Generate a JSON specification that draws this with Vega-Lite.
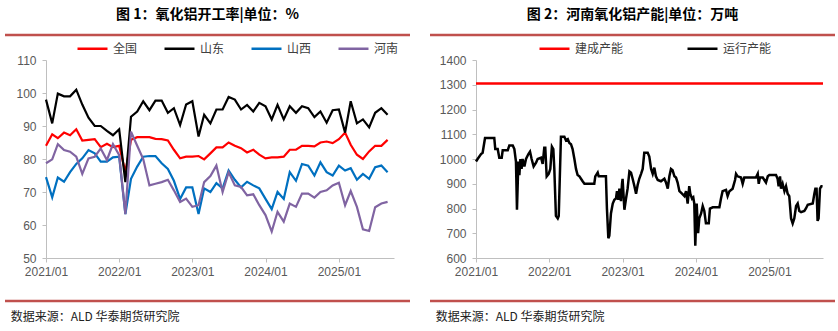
{
  "$schema": "https://vega.github.io/schema/vega-lite/v6.json",
  "background": "white",
  "padding": {"left": 3, "top": 7, "right": 3, "bottom": 3},
  "config": {
    "view": {"stroke": null},
    "font": "Liberation Sans",
    "axis": {"grid": false, "domainColor": "#BFBFBF", "tickColor": "#BFBFBF", "labelColor": "#595959", "labelFont": "Liberation Sans", "labelFontSize": 12, "tickSize": 4, "labelFlush": false},
    "title": {"font": "Noto Sans CJK SC", "fontSize": 14, "fontWeight": "bold", "color": "#000000"},
    "legend": {"orient": "none", "direction": "horizontal", "symbolType": "stroke", "symbolSize": 900, "symbolStrokeWidth": 2.5, "labelFont": "Noto Sans CJK SC", "labelFontSize": 12, "labelColor": "#404040", "labelOffset": 4, "padding": 0, "title": null}
  },
  "resolve": {"scale": {"color": "independent"}, "legend": {"color": "independent"}},
  "datasets": {
    "rate": [
      {"d":"2021-01-01","全国":84,"山东":98,"山西":74.5,"河南":78.7},
      {"d":"2021-02-01","全国":87.5,"山东":90.8,"山西":68.4,"河南":79.9},
      {"d":"2021-03-01","全国":86.3,"山东":99.8,"山西":74.4,"河南":84.5},
      {"d":"2021-04-01","全国":88,"山东":99,"山西":73.1,"河南":82.7},
      {"d":"2021-05-01","全国":87.2,"山东":99,"山西":76,"河南":82.2},
      {"d":"2021-06-01","全国":89,"山东":101,"山西":78.5,"河南":80.7},
      {"d":"2021-07-01","全国":85.6,"山东":96.5,"山西":80.2,"河南":75.5},
      {"d":"2021-08-01","全国":85.8,"山东":92.5,"山西":82.7,"河南":80.2},
      {"d":"2021-09-01","全国":86,"山东":90,"山西":81.7,"河南":80.7},
      {"d":"2021-10-01","全国":83.6,"山东":90,"山西":79.2,"河南":83.2},
      {"d":"2021-11-01","全国":84.6,"山东":88.5,"山西":79.2,"河南":79.7},
      {"d":"2021-12-01","全国":83.6,"山东":87.2,"山西":80.5,"河南":84.5},
      {"d":"2022-01-01","全国":84,"山东":89,"山西":80.7,"河南":81.2},
      {"d":"2022-02-01","全国":76,"山东":73,"山西":63.3,"河南":63.3},
      {"d":"2022-03-01","全国":85.8,"山东":92.8,"山西":74,"河南":88.3},
      {"d":"2022-04-01","全国":86.6,"山东":94.4,"山西":77.7,"河南":84},
      {"d":"2022-05-01","全国":86.6,"山东":97.5,"山西":80.7,"河南":80},
      {"d":"2022-06-01","全国":86.6,"山东":94.8,"山西":80.9,"河南":72},
      {"d":"2022-07-01","全国":86.1,"山东":97.7,"山西":80.9,"河南":72.5},
      {"d":"2022-08-01","全国":86,"山东":97.7,"山西":78.7,"河南":73},
      {"d":"2022-09-01","全国":85.6,"山东":94,"山西":77,"河南":73.7},
      {"d":"2022-10-01","全国":82.8,"山东":95.4,"山西":73.4,"河南":70.5},
      {"d":"2022-11-01","全国":80.2,"山东":90.3,"山西":67.9,"河南":67},
      {"d":"2022-12-01","全国":80.7,"山东":96.5,"山西":71.4,"河南":68},
      {"d":"2023-01-01","全国":80.7,"山东":97.5,"山西":71.4,"河南":65.5},
      {"d":"2023-02-01","全国":80.9,"山东":86.8,"山西":63.3,"河南":66},
      {"d":"2023-03-01","全国":79.9,"山东":93.4,"山西":71.1,"河南":73},
      {"d":"2023-04-01","全国":81.7,"山东":90.8,"山西":70,"河南":74.8},
      {"d":"2023-05-01","全国":83.5,"山东":95,"山西":72.7,"河南":78},
      {"d":"2023-06-01","全国":83.5,"山东":95,"山西":71.1,"河南":70},
      {"d":"2023-07-01","全国":85,"山东":98.8,"山西":76.5,"河南":76},
      {"d":"2023-08-01","全国":84,"山东":98,"山西":73.7,"河南":72},
      {"d":"2023-09-01","全国":83.3,"山东":95,"山西":71.4,"河南":71.5},
      {"d":"2023-10-01","全国":82,"山东":96.4,"山西":73.1,"河南":69},
      {"d":"2023-11-01","全国":82.8,"山东":94.4,"山西":72,"河南":69.3},
      {"d":"2023-12-01","全国":81.3,"山东":97,"山西":71.1,"河南":66},
      {"d":"2024-01-01","全国":80.2,"山东":96,"山西":67.9,"河南":63},
      {"d":"2024-02-01","全国":80.5,"山东":92,"山西":64.8,"河南":58},
      {"d":"2024-03-01","全国":80.5,"山东":96.4,"山西":70,"河南":64},
      {"d":"2024-04-01","全国":80.7,"山东":92,"山西":67.9,"河南":61},
      {"d":"2024-05-01","全国":82.8,"山东":96,"山西":76,"河南":66.5},
      {"d":"2024-06-01","全国":82.8,"山东":94,"山西":73.4,"河南":65.5},
      {"d":"2024-07-01","全国":84,"山东":96,"山西":78.5,"河南":69.5},
      {"d":"2024-08-01","全国":84,"山东":95.4,"山西":78,"河南":69.5},
      {"d":"2024-09-01","全国":83.8,"山东":92.7,"山西":75,"河南":68.3},
      {"d":"2024-10-01","全国":85,"山东":94.4,"山西":79,"河南":70},
      {"d":"2024-11-01","全国":85.3,"山东":91,"山西":76,"河南":70.5},
      {"d":"2024-12-01","全国":84.8,"山东":94.8,"山西":75,"河南":72},
      {"d":"2025-01-01","全国":86,"山东":95,"山西":78,"河南":72.8},
      {"d":"2025-02-01","全国":88,"山东":88,"山西":76.5,"河南":66},
      {"d":"2025-03-01","全国":84.3,"山东":97.5,"山西":77.2,"河南":70.3},
      {"d":"2025-04-01","全国":81.3,"山东":90.8,"山西":73.7,"河南":65.5},
      {"d":"2025-05-01","全国":80,"山东":92,"山西":75.5,"河南":58.7},
      {"d":"2025-06-01","全国":82.3,"山东":89.6,"山西":74,"河南":58.2},
      {"d":"2025-07-01","全国":84,"山东":94,"山西":77.5,"河南":65.4},
      {"d":"2025-08-01","全国":84,"山东":95.4,"山西":78,"河南":66.5},
      {"d":"2025-09-01","全国":85.8,"山东":93.4,"山西":76,"河南":67}
    ],
    "cap": [
      {"d":"2021-01-01","s":"建成产能","v":1305},
      {"d":"2025-09-25","s":"建成产能","v":1305},
      {"d":"2021-01-01","s":"运行产能","v":990},
      {"d":"2021-01-09","s":"运行产能","v":1000},
      {"d":"2021-01-26","s":"运行产能","v":1020},
      {"d":"2021-02-03","s":"运行产能","v":1025},
      {"d":"2021-02-15","s":"运行产能","v":1085},
      {"d":"2021-04-02","s":"运行产能","v":1085},
      {"d":"2021-04-07","s":"运行产能","v":1040},
      {"d":"2021-04-19","s":"运行产能","v":1040},
      {"d":"2021-04-27","s":"运行产能","v":1005},
      {"d":"2021-05-09","s":"运行产能","v":1005},
      {"d":"2021-05-14","s":"运行产能","v":1035},
      {"d":"2021-06-08","s":"运行产能","v":1035},
      {"d":"2021-06-16","s":"运行产能","v":1055},
      {"d":"2021-07-03","s":"运行产能","v":1055},
      {"d":"2021-07-11","s":"运行产能","v":1040},
      {"d":"2021-07-19","s":"运行产能","v":990},
      {"d":"2021-07-24","s":"运行产能","v":795},
      {"d":"2021-07-31","s":"运行产能","v":990},
      {"d":"2021-08-05","s":"运行产能","v":935},
      {"d":"2021-08-10","s":"运行产能","v":1000},
      {"d":"2021-08-16","s":"运行产能","v":960},
      {"d":"2021-08-21","s":"运行产能","v":1000},
      {"d":"2021-08-30","s":"运行产能","v":970},
      {"d":"2021-09-07","s":"运行产能","v":1000},
      {"d":"2021-09-19","s":"运行产能","v":1020},
      {"d":"2021-09-27","s":"运行产能","v":1030},
      {"d":"2021-10-05","s":"运行产能","v":1000},
      {"d":"2021-10-15","s":"运行产能","v":970},
      {"d":"2021-10-27","s":"运行产能","v":985},
      {"d":"2021-11-04","s":"运行产能","v":1000},
      {"d":"2021-11-21","s":"运行产能","v":1005},
      {"d":"2021-11-29","s":"运行产能","v":980},
      {"d":"2021-12-07","s":"运行产能","v":1045},
      {"d":"2021-12-12","s":"运行产能","v":1045},
      {"d":"2021-12-19","s":"运行产能","v":930},
      {"d":"2021-12-29","s":"运行产能","v":940},
      {"d":"2022-01-06","s":"运行产能","v":960},
      {"d":"2022-01-14","s":"运行产能","v":1050},
      {"d":"2022-01-21","s":"运行产能","v":1040},
      {"d":"2022-01-26","s":"运行产能","v":960},
      {"d":"2022-02-03","s":"运行产能","v":770},
      {"d":"2022-02-12","s":"运行产能","v":760},
      {"d":"2022-02-17","s":"运行产能","v":770},
      {"d":"2022-02-28","s":"运行产能","v":1090},
      {"d":"2022-03-17","s":"运行产能","v":1090},
      {"d":"2022-03-25","s":"运行产能","v":1075},
      {"d":"2022-04-03","s":"运行产能","v":1080},
      {"d":"2022-04-11","s":"运行产能","v":1065},
      {"d":"2022-04-19","s":"运行产能","v":1060},
      {"d":"2022-04-27","s":"运行产能","v":1040},
      {"d":"2022-05-06","s":"运行产能","v":1000},
      {"d":"2022-05-14","s":"运行产能","v":960},
      {"d":"2022-05-22","s":"运行产能","v":935},
      {"d":"2022-05-31","s":"运行产能","v":930},
      {"d":"2022-06-16","s":"运行产能","v":910},
      {"d":"2022-06-25","s":"运行产能","v":900},
      {"d":"2022-08-13","s":"运行产能","v":900},
      {"d":"2022-08-18","s":"运行产能","v":930},
      {"d":"2022-08-30","s":"运行产能","v":945},
      {"d":"2022-09-04","s":"运行产能","v":930},
      {"d":"2022-10-10","s":"运行产能","v":930},
      {"d":"2022-10-15","s":"运行产能","v":800},
      {"d":"2022-10-22","s":"运行产能","v":680},
      {"d":"2022-10-27","s":"运行产能","v":690},
      {"d":"2022-11-04","s":"运行产能","v":780},
      {"d":"2022-11-13","s":"运行产能","v":820},
      {"d":"2022-11-21","s":"运行产能","v":835},
      {"d":"2022-11-29","s":"运行产能","v":840},
      {"d":"2022-12-04","s":"运行产能","v":870},
      {"d":"2022-12-11","s":"运行产能","v":835},
      {"d":"2022-12-16","s":"运行产能","v":880},
      {"d":"2022-12-24","s":"运行产能","v":830},
      {"d":"2022-12-29","s":"运行产能","v":900},
      {"d":"2023-01-01","s":"运行产能","v":920},
      {"d":"2023-01-06","s":"运行产能","v":850},
      {"d":"2023-01-10","s":"运行产能","v":795},
      {"d":"2023-01-18","s":"运行产能","v":840},
      {"d":"2023-01-26","s":"运行产能","v":880},
      {"d":"2023-02-04","s":"运行产能","v":950},
      {"d":"2023-02-12","s":"运行产能","v":945},
      {"d":"2023-02-20","s":"运行产能","v":920},
      {"d":"2023-03-01","s":"运行产能","v":890},
      {"d":"2023-03-09","s":"运行产能","v":860},
      {"d":"2023-03-17","s":"运行产能","v":895},
      {"d":"2023-03-25","s":"运行产能","v":920},
      {"d":"2023-04-03","s":"运行产能","v":940},
      {"d":"2023-04-11","s":"运行产能","v":960},
      {"d":"2023-04-19","s":"运行产能","v":1025},
      {"d":"2023-05-06","s":"运行产能","v":1025},
      {"d":"2023-05-14","s":"运行产能","v":1010},
      {"d":"2023-05-23","s":"运行产能","v":960},
      {"d":"2023-05-31","s":"运行产能","v":940},
      {"d":"2023-06-08","s":"运行产能","v":965},
      {"d":"2023-06-16","s":"运行产能","v":930},
      {"d":"2023-06-25","s":"运行产能","v":915},
      {"d":"2023-07-11","s":"运行产能","v":910},
      {"d":"2023-07-28","s":"运行产能","v":920},
      {"d":"2023-08-05","s":"运行产能","v":905},
      {"d":"2023-08-14","s":"运行产能","v":880},
      {"d":"2023-08-22","s":"运行产能","v":930},
      {"d":"2023-08-30","s":"运行产能","v":960},
      {"d":"2023-09-07","s":"运行产能","v":955},
      {"d":"2023-09-16","s":"运行产能","v":930},
      {"d":"2023-09-24","s":"运行产能","v":925},
      {"d":"2023-10-02","s":"运行产能","v":905},
      {"d":"2023-10-11","s":"运行产能","v":870},
      {"d":"2023-10-24","s":"运行产能","v":860},
      {"d":"2023-11-05","s":"运行产能","v":850},
      {"d":"2023-11-13","s":"运行产能","v":870},
      {"d":"2023-11-21","s":"运行产能","v":820},
      {"d":"2023-11-29","s":"运行产能","v":890},
      {"d":"2023-12-04","s":"运行产能","v":860},
      {"d":"2023-12-13","s":"运行产能","v":840},
      {"d":"2023-12-19","s":"运行产能","v":845},
      {"d":"2023-12-24","s":"运行产能","v":820},
      {"d":"2023-12-29","s":"运行产能","v":650},
      {"d":"2024-01-05","s":"运行产能","v":820},
      {"d":"2024-01-12","s":"运行产能","v":700},
      {"d":"2024-01-18","s":"运行产能","v":760},
      {"d":"2024-01-27","s":"运行产能","v":780},
      {"d":"2024-02-04","s":"运行产能","v":810},
      {"d":"2024-02-12","s":"运行产能","v":790},
      {"d":"2024-02-20","s":"运行产能","v":740},
      {"d":"2024-03-05","s":"运行产能","v":740},
      {"d":"2024-03-11","s":"运行产能","v":800},
      {"d":"2024-03-25","s":"运行产能","v":805},
      {"d":"2024-04-27","s":"运行产能","v":805},
      {"d":"2024-05-05","s":"运行产能","v":840},
      {"d":"2024-05-13","s":"运行产能","v":870},
      {"d":"2024-05-30","s":"运行产能","v":875},
      {"d":"2024-06-07","s":"运行产能","v":850},
      {"d":"2024-06-16","s":"运行产能","v":870},
      {"d":"2024-07-02","s":"运行产能","v":880},
      {"d":"2024-07-14","s":"运行产能","v":915},
      {"d":"2024-07-19","s":"运行产能","v":940},
      {"d":"2024-07-27","s":"运行产能","v":930},
      {"d":"2024-08-13","s":"运行产能","v":925},
      {"d":"2024-08-21","s":"运行产能","v":900},
      {"d":"2024-08-29","s":"运行产能","v":925},
      {"d":"2024-10-26","s":"运行产能","v":925},
      {"d":"2024-11-04","s":"运行产能","v":940},
      {"d":"2024-11-09","s":"运行产能","v":900},
      {"d":"2024-11-15","s":"运行产能","v":925},
      {"d":"2024-11-29","s":"运行产能","v":925},
      {"d":"2024-12-15","s":"运行产能","v":905},
      {"d":"2024-12-24","s":"运行产能","v":930},
      {"d":"2025-01-01","s":"运行产能","v":935},
      {"d":"2025-02-03","s":"运行产能","v":935},
      {"d":"2025-02-11","s":"运行产能","v":920},
      {"d":"2025-02-16","s":"运行产能","v":890},
      {"d":"2025-02-23","s":"运行产能","v":930},
      {"d":"2025-02-28","s":"运行产能","v":880},
      {"d":"2025-03-08","s":"运行产能","v":900},
      {"d":"2025-03-17","s":"运行产能","v":870},
      {"d":"2025-03-25","s":"运行产能","v":890},
      {"d":"2025-04-02","s":"运行产能","v":860},
      {"d":"2025-04-10","s":"运行产能","v":850},
      {"d":"2025-04-19","s":"运行产能","v":760},
      {"d":"2025-04-27","s":"运行产能","v":740},
      {"d":"2025-05-05","s":"运行产能","v":760},
      {"d":"2025-05-14","s":"运行产能","v":810},
      {"d":"2025-05-22","s":"运行产能","v":820},
      {"d":"2025-05-30","s":"运行产能","v":790},
      {"d":"2025-06-08","s":"运行产能","v":785},
      {"d":"2025-06-24","s":"运行产能","v":790},
      {"d":"2025-07-02","s":"运行产能","v":800},
      {"d":"2025-07-11","s":"运行产能","v":815},
      {"d":"2025-08-05","s":"运行产能","v":820},
      {"d":"2025-08-13","s":"运行产能","v":860},
      {"d":"2025-08-18","s":"运行产能","v":880},
      {"d":"2025-08-24","s":"运行产能","v":880},
      {"d":"2025-08-29","s":"运行产能","v":750},
      {"d":"2025-09-03","s":"运行产能","v":760},
      {"d":"2025-09-10","s":"运行产能","v":880},
      {"d":"2025-09-17","s":"运行产能","v":890},
      {"d":"2025-09-23","s":"运行产能","v":890}
    ]
  },
  "spacing": 16,
  "hconcat": [
    {
      "spacing": 15,
      "vconcat": [
        {
          "width": 364, "height": 4,
          "data": {"values": [{}]},
          "title": {"text": "图 1：氧化铝开工率|单位：%", "anchor": "middle", "offset": 12, "frame": "bounds"},
          "mark": {"type": "rule", "color": "#C0504D", "strokeWidth": 2.5, "xOffset": -41},
          "encoding": {
            "x": {"datum": 0, "type": "quantitative", "scale": {"domain": [0, 1], "nice": false, "zero": false}, "axis": null},
            "x2": {"datum": 1},
            "y": {"datum": 1, "type": "quantitative", "scale": {"domain": [0, 1], "nice": false}, "axis": null}
          }
        },
        {
          "width": 348, "height": 198,
          "data": {"name": "rate"},
          "transform": [{"fold": ["全国", "山东", "山西", "河南"], "as": ["s", "v"]}],
          "mark": {"type": "line", "strokeWidth": 2.2},
          "encoding": {
            "x": {"field": "d", "type": "temporal", "title": null,
              "scale": {"type": "utc", "domain": [{"year": 2021, "month": 1, "date": 1, "utc": true}, {"year": 2025, "month": 10, "date": 3, "utc": true}]},
              "axis": {"format": "%Y/%m", "labelPadding": 4, "values": [{"year": 2021, "month": 1, "date": 1, "utc": true}, {"year": 2022, "month": 1, "date": 1, "utc": true}, {"year": 2023, "month": 1, "date": 1, "utc": true}, {"year": 2024, "month": 1, "date": 1, "utc": true}, {"year": 2025, "month": 1, "date": 1, "utc": true}]}},
            "y": {"field": "v", "type": "quantitative", "title": null,
              "scale": {"domain": [50, 110], "nice": false, "zero": false},
              "axis": {"values": [50, 60, 70, 80, 90, 100, 110], "format": "d", "labelPadding": 6}},
            "color": {"field": "s", "type": "nominal",
              "scale": {"domain": ["全国", "山东", "山西", "河南"], "range": ["#FF0000", "#000000", "#0070C0", "#8064A2"]},
              "legend": {"legendX": 30, "legendY": -3, "columnPadding": 21}}
          }
        },
        {
          "width": 364, "height": 9,
          "data": {"values": [{}]},
          "title": {"text": "数据来源：ALD 华泰期货研究院", "orient": "bottom", "anchor": "start", "frame": "bounds", "fontSize": 12, "fontWeight": "normal", "color": "#222222", "offset": 10, "dx": 7},
          "mark": {"type": "rule", "color": "#C0504D", "strokeWidth": 2.5, "xOffset": -41},
          "encoding": {
            "x": {"datum": 0, "type": "quantitative", "scale": {"domain": [0, 1], "nice": false, "zero": false}, "axis": null},
            "x2": {"datum": 1},
            "y": {"datum": 0, "type": "quantitative", "scale": {"domain": [0, 1], "nice": false}, "axis": null}
          }
        }
      ]
    },
    {
      "spacing": 15,
      "vconcat": [
        {
          "width": 359, "height": 4,
          "data": {"values": [{}]},
          "title": {"text": "图 2：河南氧化铝产能|单位：万吨", "anchor": "middle", "offset": 12, "frame": "bounds"},
          "mark": {"type": "rule", "color": "#C0504D", "strokeWidth": 2.5, "xOffset": -46},
          "encoding": {
            "x": {"datum": 0, "type": "quantitative", "scale": {"domain": [0, 1], "nice": false, "zero": false}, "axis": null},
            "x2": {"datum": 1},
            "y": {"datum": 1, "type": "quantitative", "scale": {"domain": [0, 1], "nice": false}, "axis": null}
          }
        },
        {
          "width": 347, "height": 198,
          "data": {"name": "cap"},
          "mark": {"type": "line", "strokeWidth": 2.5},
          "encoding": {
            "x": {"field": "d", "type": "temporal", "title": null,
              "scale": {"type": "utc", "domain": [{"year": 2021, "month": 1, "date": 1, "utc": true}, {"year": 2025, "month": 9, "date": 25, "utc": true}]},
              "axis": {"format": "%Y/%m", "labelPadding": 4, "values": [{"year": 2021, "month": 1, "date": 1, "utc": true}, {"year": 2022, "month": 1, "date": 1, "utc": true}, {"year": 2023, "month": 1, "date": 1, "utc": true}, {"year": 2024, "month": 1, "date": 1, "utc": true}, {"year": 2025, "month": 1, "date": 1, "utc": true}]}},
            "y": {"field": "v", "type": "quantitative", "title": null,
              "scale": {"domain": [600, 1400], "nice": false, "zero": false},
              "axis": {"values": [600, 700, 800, 900, 1000, 1100, 1200, 1300, 1400], "format": "d", "labelPadding": 6}},
            "color": {"field": "s", "type": "nominal",
              "scale": {"domain": ["建成产能", "运行产能"], "range": ["#FF0000", "#000000"]},
              "legend": {"legendX": 62, "legendY": -3, "columnPadding": 58}}
          }
        },
        {
          "width": 359, "height": 9,
          "data": {"values": [{}]},
          "title": {"text": "数据来源：ALD 华泰期货研究院", "orient": "bottom", "anchor": "start", "frame": "bounds", "fontSize": 12, "fontWeight": "normal", "color": "#222222", "offset": 10, "dx": 7},
          "mark": {"type": "rule", "color": "#C0504D", "strokeWidth": 2.5, "xOffset": -46},
          "encoding": {
            "x": {"datum": 0, "type": "quantitative", "scale": {"domain": [0, 1], "nice": false, "zero": false}, "axis": null},
            "x2": {"datum": 1},
            "y": {"datum": 0, "type": "quantitative", "scale": {"domain": [0, 1], "nice": false}, "axis": null}
          }
        }
      ]
    }
  ]
}
